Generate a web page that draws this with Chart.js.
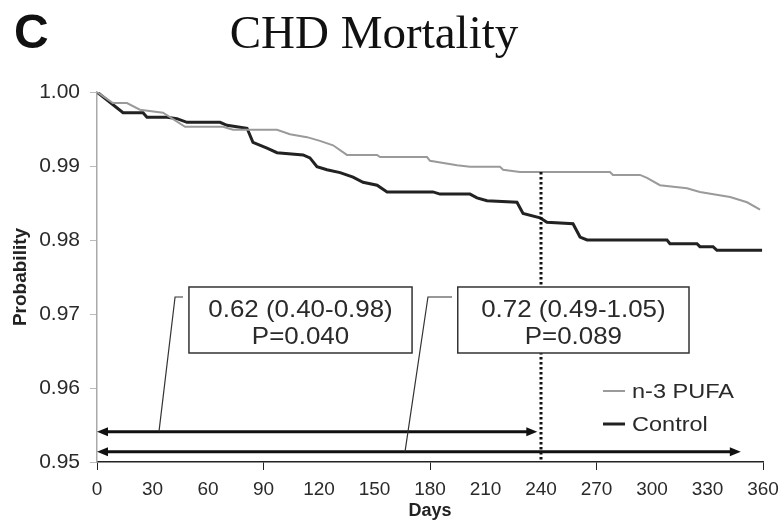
<!DOCTYPE html>
<html>
<head>
<meta charset="utf-8">
<script src="https://cdn.jsdelivr.net/npm/chart.js@4.4.1/dist/chart.umd.min.js"></script>
<style>
  html,body{margin:0;padding:0;background:#fff;}
  #wrap{width:780px;height:525px;position:relative;}
</style>
</head>
<body>
<div id="wrap"><canvas id="chart" width="780" height="525"></canvas></div>
<script>
// Kaplan-Meier style curves
const pufaDays = [0, 8.6, 16.2, 23.2, 35.7, 47.6, 68.1, 73.5, 97.3, 104.3, 113.5, 120.5, 127.6, 135.1, 151.4, 153, 178.4, 180, 194.6, 201.6, 217.8, 219.5, 228.6, 277.3, 278.9, 293.5, 297.3, 304.3, 318.9, 325.9, 342.2, 351.4, 358.4];
const pufaProb = [1.000, 0.9985, 0.9985, 0.9976, 0.9972, 0.9953, 0.9953, 0.9949, 0.9949, 0.9943, 0.9939, 0.9934, 0.9928, 0.9915, 0.9915, 0.9912, 0.9912, 0.9907, 0.9901, 0.9899, 0.9899, 0.9895, 0.9892, 0.9892, 0.9888, 0.9888, 0.9884, 0.9874, 0.9870, 0.9865, 0.9858, 0.9851, 0.9841];

const ctrlDays = [0, 14.1, 24.9, 27, 37.8, 43.2, 48.6, 66.5, 70.3, 81.1, 84.3, 91.9, 97.3, 111.4, 115.1, 118.9, 124.3, 131.4, 138.4, 143.8, 151.4, 156.8, 181.6, 185.4, 201.6, 205.4, 210.8, 227, 230.3, 239.5, 243.2, 257.3, 261.1, 264.9, 308.1, 309.7, 324.3, 325.9, 333, 335.1, 359.5];
const ctrlProb = [1.000, 0.9972, 0.9972, 0.9966, 0.9966, 0.9964, 0.9959, 0.9959, 0.9955, 0.9951, 0.9932, 0.9924, 0.9918, 0.9915, 0.9911, 0.9899, 0.9895, 0.9891, 0.9885, 0.9878, 0.9874, 0.9865, 0.9865, 0.9862, 0.9862, 0.9857, 0.9853, 0.9851, 0.9836, 0.9830, 0.9824, 0.9822, 0.9804, 0.9800, 0.9800, 0.9795, 0.9795, 0.9791, 0.9791, 0.9786, 0.9786];

const seriesNames = ['n-3 PUFA', 'Control'];
const xMin = 0, xMax = 360, xStep = 30, xMarkStep = 90;
const yMin = 0.95, yMax = 1.00, yStep = 0.01;

// landmark analysis: cut at 240 days
const cutDay = 240;
const cutTop = 0.9892;
const arrowFrom = [0, 0];
const arrowTo = [238, 348];
const arrowProb = [0.9541, 0.9514];
const calloutText = [['0.62 (0.40-0.98)', 'P=0.040'], ['0.72 (0.49-1.05)', 'P=0.089']];

const toPts = (xs, ys) => xs.map((x, i) => ({x: x, y: ys[i]}));

const SANS = '"Liberation Sans", Arial, sans-serif';

// the scan is a bit wider than tall, so stretch hand drawn text a little
function wideText(ctx, txt, x, y, sx){
  ctx.save();
  ctx.translate(x, y);
  ctx.scale(sx, 1);
  ctx.fillText(txt, 0, 0);
  ctx.restore();
}

const overlay = {
  id: 'overlay',
  afterDatasetsDraw(chart){
    const {ctx, scales:{x, y}} = chart;
    const px = v => x.getPixelForValue(v);
    const py = v => y.getPixelForValue(v);
    ctx.save();

    // dotted cut line
    ctx.strokeStyle = '#111';
    ctx.lineWidth = 3;
    ctx.setLineDash([2.5, 2.5]);
    ctx.beginPath();
    ctx.moveTo(px(cutDay), py(cutTop));
    ctx.lineTo(px(cutDay), py(yMin));
    ctx.stroke();
    ctx.setLineDash([]);

    // double headed arrows
    arrowProb.forEach((p, i) => {
      const x0 = px(arrowFrom[i]), x1 = px(arrowTo[i]), yy = py(p);
      ctx.strokeStyle = '#111'; ctx.fillStyle = '#111'; ctx.lineWidth = 3;
      ctx.beginPath(); ctx.moveTo(x0 + 6, yy); ctx.lineTo(x1 - 6, yy); ctx.stroke();
      [[x0, 1], [x1, -1]].forEach(([tip, d]) => {
        ctx.beginPath();
        ctx.moveTo(tip, yy);
        ctx.lineTo(tip + d * 11, yy - 4.5);
        ctx.lineTo(tip + d * 11, yy + 4.5);
        ctx.closePath(); ctx.fill();
      });
    });

    // callouts: box in data units + leader line down to its arrow
    const boxes = [
      {d0: 49.7, d1: 170.3, lead: [33.5, 42.2, 46.5], row: 0},
      {d0: 195, d1: 320, lead: [166.5, 178.9, 191.9], row: 1}
    ];
    const boxTop = 0.97365, boxBot = 0.96473, leadY = 0.9723;
    boxes.forEach((b, i) => {
      ctx.strokeStyle = '#333'; ctx.lineWidth = 1.2;
      ctx.beginPath();
      ctx.moveTo(px(b.lead[0]), py(arrowProb[b.row]));
      ctx.lineTo(px(b.lead[1]), py(leadY));
      ctx.lineTo(px(b.lead[2]), py(leadY));
      ctx.stroke();
      const bx = px(b.d0), bw = px(b.d1) - bx, by = py(boxTop), bh = py(boxBot) - by;
      ctx.fillStyle = '#fff';
      ctx.fillRect(bx, by, bw, bh);
      ctx.lineWidth = 1.5;
      ctx.strokeRect(bx, by, bw, bh);
      ctx.fillStyle = '#2a2a2a';
      ctx.font = '24px ' + SANS;
      ctx.textAlign = 'center'; ctx.textBaseline = 'middle';
      wideText(ctx, calloutText[i][0], bx + bw / 2, by + bh * 0.35, 1.08);
      wideText(ctx, calloutText[i][1], bx + bw / 2, by + bh * 0.76, 1.08);
    });

    // legend
    const lg = [{c: '#9a9a9a', w: 2, y: 391}, {c: '#222', w: 3, y: 424}];
    ctx.font = '21px ' + SANS;
    ctx.textAlign = 'left'; ctx.textBaseline = 'middle';
    lg.forEach((l, i) => {
      ctx.strokeStyle = l.c; ctx.lineWidth = l.w;
      ctx.beginPath(); ctx.moveTo(603, l.y); ctx.lineTo(625, l.y); ctx.stroke();
      ctx.fillStyle = '#2a2a2a';
      wideText(ctx, seriesNames[i], 632, l.y + 1, 1.12);
    });

    // panel letter + title
    ctx.fillStyle = '#111';
    ctx.textBaseline = 'alphabetic';
    ctx.font = 'bold 48px ' + SANS;
    ctx.fillText('C', 14, 48);
    ctx.font = '47px "Liberation Serif", "Times New Roman", serif';
    ctx.textAlign = 'center';
    ctx.fillText('CHD Mortality', 374, 48);
    ctx.restore();
  }
};

new Chart(document.getElementById('chart'), {
  type: 'line',
  data: {
    datasets: [
      {label: seriesNames[0], data: toPts(pufaDays, pufaProb), borderColor: '#9a9a9a', borderWidth: 2, pointRadius: 0, tension: 0},
      {label: seriesNames[1], data: toPts(ctrlDays, ctrlProb), borderColor: '#222', borderWidth: 3, pointRadius: 0, tension: 0}
    ]
  },
  options: {
    responsive: false,
    animation: false,
    layout: {padding: {left: 0, top: 92, right: 17, bottom: 0}},
    plugins: {legend: {display: false}, tooltip: {enabled: false}},
    scales: {
      x: {
        type: 'linear', min: xMin, max: xMax,
        afterFit: s => { s.height = 63; s.paddingLeft = 0; s.paddingRight = 0; },
        border: {color: '#222', width: 1.5},
        grid: {drawOnChartArea: false, drawTicks: true, tickLength: 8,
               tickColor: c => (c.tick && c.tick.value % xMarkStep === 0) ? '#222' : 'rgba(0,0,0,0)'},
        ticks: {stepSize: xStep, autoSkip: false, maxRotation: 0, padding: 8, color: '#2a2a2a',
                font: {family: SANS, size: 19}},
        title: {display: true, text: 'Days', color: '#222', padding: {top: 0, bottom: 3},
                font: {family: SANS, size: 18, weight: 'bold'}}
      },
      y: {
        min: yMin, max: yMax,
        afterFit: s => { s.width = 97; },
        border: {color: '#aaa', width: 1.5},
        grid: {drawOnChartArea: false, tickLength: 7, tickColor: '#bbb'},
        ticks: {stepSize: yStep, padding: 10, color: '#2a2a2a', callback: v => v.toFixed(2),
                font: {family: SANS, size: 21}},
        title: {display: true, text: 'Probability', color: '#222', padding: {top: 9, bottom: 0},
                font: {family: SANS, size: 19, weight: 'bold'}}
      }
    }
  },
  plugins: [overlay]
});
</script>
</body>
</html>
